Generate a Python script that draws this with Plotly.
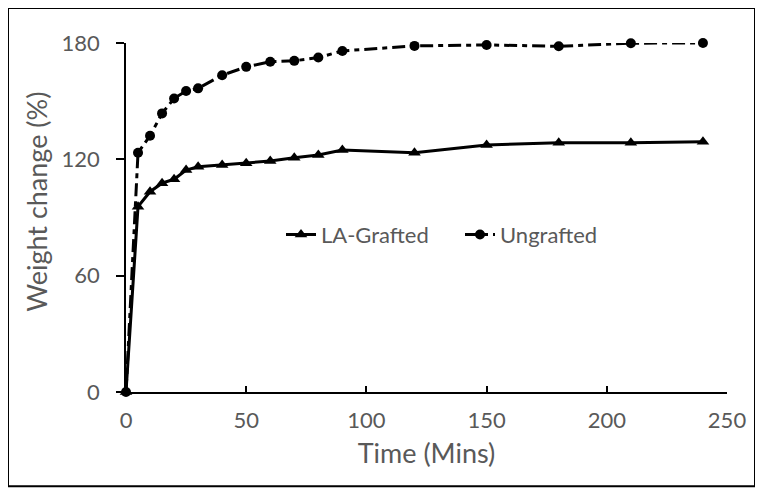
import plotly.graph_objects as go

time_min = [0, 5, 10, 15, 20, 25, 30, 40, 50, 60, 70, 80, 90, 120, 150, 180, 210, 240]
la_grafted = [0, 95.6, 103.3, 107.7, 109.7, 114.5, 116.2, 117.1, 118.0, 119.1, 120.8, 122.2, 124.8, 123.4, 127.4, 128.6, 128.6, 129.1]
ungrafted = [0, 123.4, 132.2, 143.7, 151.4, 155.2, 156.6, 163.4, 167.7, 170.3, 170.8, 172.5, 175.9, 178.5, 179.0, 178.3, 179.9, 180.0]

x_ticks = [0, 50, 100, 150, 200, 250]
y_ticks = [0, 60, 120, 180]

FONT = "Lato"
GRAY = "#595959"
OFF = 8  # page body margin

fig = go.Figure()
fig.add_trace(go.Scatter(
    x=time_min, y=la_grafted, name="LA-Grafted", mode="lines+markers",
    line=dict(color="black", width=3),
    marker=dict(symbol="triangle-up", size=11, color="black"),
    cliponaxis=False,
))
fig.add_trace(go.Scatter(
    x=time_min, y=ungrafted, name="Ungrafted", mode="lines+markers",
    line=dict(color="black", width=3, dash="13px,5px,5px,5px"),
    marker=dict(symbol="circle", size=10, color="black"),
    cliponaxis=False,
))

W, H = 763 - OFF, 495 - OFF
L = 126 - OFF
R = W - (727 - OFF)
T = 43 - OFF
B = H - (392.5 - OFF)
pw = W - L - R
ph = H - T - B

def px_x(x):
    return (x - OFF - L) / pw

def px_y(y):
    return (H - B - (y - OFF)) / ph

fig.update_layout(
    width=W, height=H,
    margin=dict(l=L, r=R, t=T, b=B),
    paper_bgcolor="white", plot_bgcolor="white",
    font=dict(family=FONT, color=GRAY, size=22),
    showlegend=True,
    legend=dict(
        orientation="h",
        x=px_x(281), xanchor="left",
        y=px_y(235), yanchor="middle",
        font=dict(family=FONT, size=22, color=GRAY),
        bgcolor="rgba(0,0,0,0)",
        itemwidth=30,
        entrywidth=134,
    ),
    xaxis=dict(
        range=[0, 250], tickvals=x_ticks, ticks="inside", ticklen=6, tickwidth=1.5,
        tickcolor="black", showline=True, linecolor="black", linewidth=1.5,
        showgrid=False, zeroline=False, ticklabelstandoff=8,
        tickfont=dict(family=FONT, size=22, color=GRAY),
        title=dict(text="Time (Mins)", font=dict(family=FONT, size=27, color=GRAY), standoff=12),
    ),
    yaxis=dict(
        range=[0, 180], tickvals=y_ticks, ticks="outside", ticklen=8, tickwidth=1.5,
        tickcolor="black", showline=True, linecolor="black", linewidth=1.5,
        showgrid=False, zeroline=False, ticklabelstandoff=12,
        tickfont=dict(family=FONT, size=22, color=GRAY),
    ),
    annotations=[dict(
        text="Weight change (%)", textangle=-90, showarrow=False,
        xref="paper", yref="paper", x=px_x(37), y=px_y(202),
        xanchor="center", yanchor="middle",
        font=dict(family=FONT, size=27, color=GRAY),
    )],
    shapes=[dict(
        type="rect", xref="paper", yref="paper",
        x0=px_x(8), x1=px_x(755),
        y0=px_y(487), y1=px_y(8),
        line=dict(color="black", width=2), fillcolor="rgba(0,0,0,0)", layer="below",
    )],
)

fig.write_html("out.html")
